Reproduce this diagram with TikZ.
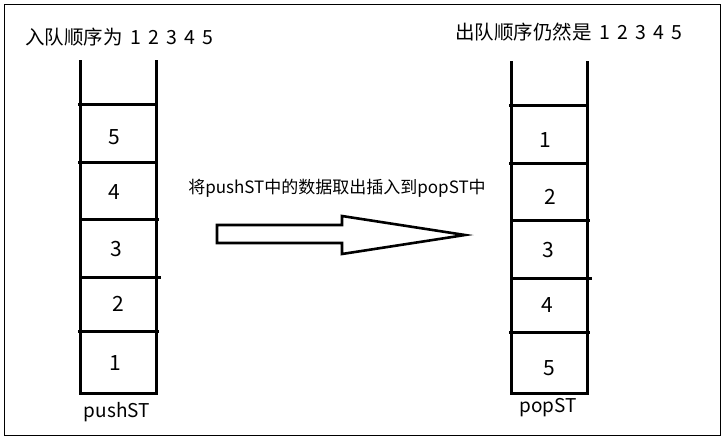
\documentclass[tikz,border=0pt]{standalone}
\usepackage{fontspec}
\setmainfont{Noto Sans CJK SC}
\newcommand{\digsp}{\hspace{7.2pt}}
\begin{document}
\begin{tikzpicture}[x=1pt,y=-1pt,
  wall/.style={line width=3pt},
  frame/.style={line width=1pt},
  cellnum/.style={font=\fontsize{21}{21}\selectfont, inner sep=0pt},
  title/.style={font=\fontsize{19.5}{21}\selectfont, inner sep=0pt, anchor=west},
  lbl/.style={font=\fontsize{19}{20}\selectfont, inner sep=0pt},
  note/.style={font=\fontsize{17}{18}\selectfont, inner sep=0pt}]
\useasboundingbox (0,0) rectangle (725,440);
\fill[white] (0,0) rectangle (725,440);
\draw[frame] (4,4) rectangle (720,435);
% left stack
\draw[wall] (80,60) -- (80,393) -- (156,393) -- (156,60);
\draw[wall] (78,104) -- (156,104);
\draw[wall] (78,162) -- (156,162);
\draw[wall] (80,219) -- (159,219);
\draw[wall] (80,277) -- (161,277);
\draw[wall] (78,331) -- (159,331);
\node[cellnum] (l5) at (114,137) {5};
\node[cellnum] (l4) at (114,192) {4};
\node[cellnum] (l3) at (116,249) {3};
\node[cellnum] (l2) at (118,304) {2};
\node[cellnum] (l1) at (115,363) {1};
\node[lbl] (push) at (117,412) {pushST};
\node[title] (tl) at (25,37) {入队顺序为\hspace{8pt}1\digsp 2\digsp 3\digsp 4\digsp 5};
% right stack
\draw[wall] (511,61) -- (511,393) -- (587,393) -- (587,61);
\draw[wall] (509,105) -- (587,105);
\draw[wall] (509,163) -- (587,163);
\draw[wall] (511,220) -- (590,220);
\draw[wall] (511,278) -- (592,278);
\draw[wall] (509,332) -- (590,332);
\node[cellnum] (r1) at (545,140) {1};
\node[cellnum] (r2) at (550,197) {2};
\node[cellnum] (r3) at (548,250) {3};
\node[cellnum] (r4) at (547,305) {4};
\node[cellnum] (r5) at (549,368) {5};
\node[lbl] (pop) at (548,408) {popST};
\node[title] (tr) at (455,32) {出队顺序仍然是\hspace{8pt}1\digsp 2\digsp 3\digsp 4\digsp 5};
% arrow
\node[note] (msg) at (337,188) {将pushST中的数据取出插入到popST中};
\draw[line width=2.6pt, line join=miter] (217,225) -- (342,225) -- (342,216) -- (465,235) -- (342,254) -- (342,243) -- (217,243) -- cycle;
\end{tikzpicture}
\end{document}
